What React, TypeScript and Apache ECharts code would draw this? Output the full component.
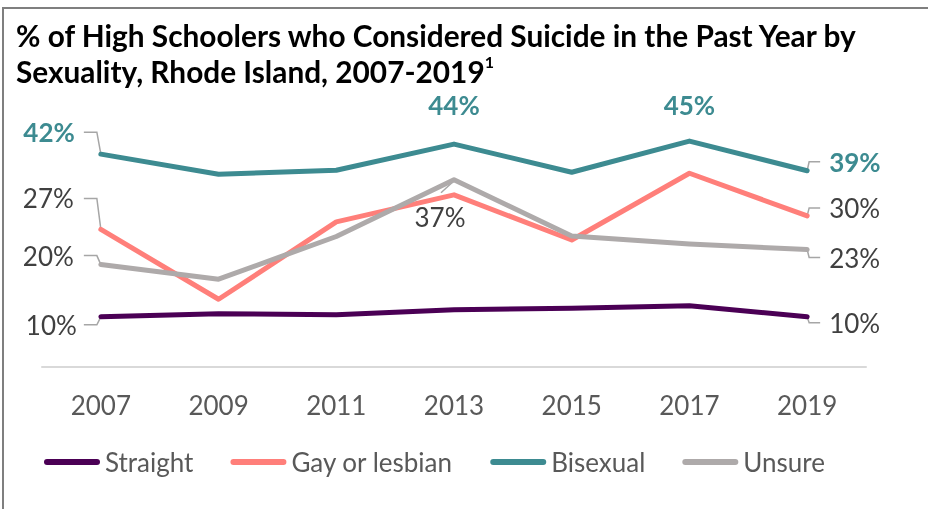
import React, { useEffect, useRef } from "react";
import * as echarts from "echarts";

const years = ["2007", "2009", "2011", "2013", "2015", "2017", "2019"];
const straight = [10.0, 10.6, 10.4, 11.4, 11.7, 12.2, 10.0];
const gayLesbian = [27.4, 13.5, 28.9, 34.3, 25.3, 38.6, 30.1];
const bisexual = [42.4, 38.4, 39.2, 44.4, 38.8, 45.0, 39.1];
const unsure = [20.4, 17.5, 26.0, 37.3, 26.1, 24.5, 23.4];
const seriesNames = ["Straight", "Gay or lesbian", "Bisexual", "Unsure"];
const seriesData = [straight, gayLesbian, bisexual, unsure];
const colors = ["#4B0055", "#FF7F7A", "#3D8B91", "#AEAAAA"];

const FONT = "Lato, 'Noto Sans', sans-serif";

type LabelSpec = { s: number; i: number; pos: string; dx: number; dy: number; leader: string | null };
const labelSpecs: LabelSpec[] = [
  { s: 2, i: 0, pos: "left", dx: -21, dy: -22, leader: "left" },
  { s: 2, i: 3, pos: "top", dx: 0, dy: -21, leader: null },
  { s: 2, i: 5, pos: "top", dx: 0, dy: -18, leader: null },
  { s: 2, i: 6, pos: "right", dx: 17, dy: -9, leader: "right" },
  { s: 1, i: 0, pos: "left", dx: -22, dy: -31, leader: "left" },
  { s: 1, i: 6, pos: "right", dx: 17, dy: -8, leader: "right" },
  { s: 3, i: 0, pos: "left", dx: -22, dy: -9, leader: "left" },
  { s: 3, i: 3, pos: "bottom", dx: -14, dy: 19, leader: "diag" },
  { s: 3, i: 6, pos: "right", dx: 17, dy: 8, leader: "right" },
  { s: 0, i: 0, pos: "left", dx: -19, dy: 8, leader: "left" },
  { s: 0, i: 6, pos: "right", dx: 17, dy: 6, leader: "right" },
];

export default function App() {
  const ref = useRef<HTMLDivElement>(null);
  useEffect(() => {
    if (!ref.current) return;
    const chart = echarts.init(ref.current, undefined, { renderer: "svg" });

    const series = seriesData.map((vals, s) => ({
      name: seriesNames[s],
      type: "line",
      symbol: "circle",
      symbolSize: 0.1,
      showSymbol: true,
      showAllSymbol: true,
      color: colors[s],
      itemStyle: { color: colors[s] },
      lineStyle: { width: 5, color: colors[s], cap: "round", join: "round" },
      label: { show: false },
      data: vals.map((v, i) => {
        const spec = labelSpecs.find((l) => l.s === s && l.i === i);
        if (!spec) return v;
        const bold = s === 2;
        return {
          value: v,
          label: {
            show: true,
            position: spec.pos,
            distance: 5,
            offset: [spec.dx, spec.dy],
            formatter: (p: any) => `${Math.round(p.value)}%`,
            fontFamily: FONT,
            fontSize: 26,
            fontWeight: bold ? "bold" : "normal",
            color: bold ? "#3D8B91" : "#404040",
          },
        };
      }),
    }));

    chart.setOption({
      animation: false,
      title: {
        text: "% of High Schoolers who Considered Suicide in the Past Year by\nSexuality, Rhode Island, 2007-2019{sup|1}",
        left: 11,
        top: 12,
        textStyle: {
          fontFamily: FONT,
          fontSize: 29.8,
          fontWeight: "bold",
          color: "#000000",
          lineHeight: 36,
          rich: {
            sup: { fontFamily: FONT, fontSize: 16, fontWeight: "bold", color: "#000000", lineHeight: 22, verticalAlign: "top" },
          },
        },
      },
      legend: {
        left: 39,
        top: 442,
        itemWidth: 56,
        itemHeight: 6,
        itemGap: 37,
        icon: "path://M3,0 H53 A3,3 0 0 1 53,6 H3 A3,3 0 0 1 3,0 Z",
        data: seriesNames,
        textStyle: { fontFamily: FONT, fontSize: 26, color: "#595959", lineHeight: 30 },
      },
      grid: { left: 42, right: 62, top: 116, bottom: 142, containLabel: false },
      xAxis: {
        type: "category",
        data: years,
        boundaryGap: true,
        axisLine: { show: true, lineStyle: { color: "#D9D9D9", width: 2 } },
        axisTick: { show: false },
        axisLabel: { fontFamily: FONT, fontSize: 26, color: "#595959", margin: 25 },
      },
      yAxis: { type: "value", min: 0, max: 50, show: false, splitLine: { show: false } },
      series,
    });

    const leaders: any[] = [];
    labelSpecs.forEach((spec) => {
      if (!spec.leader) return;
      const p = chart.convertToPixel({ seriesIndex: spec.s }, [spec.i, seriesData[spec.s][spec.i]]) as number[];
      const [px, py] = p;
      let pts: number[][] = [];
      if (spec.leader === "left") {
        const ly = py + spec.dy;
        pts = [[px - 17, ly], [px - 4, ly], [px, py]];
      } else if (spec.leader === "right") {
        const ly = py + spec.dy;
        pts = [[px, py], [px + 2, ly], [px + 13, ly]];
      } else {
        pts = [[px - 13, py + 13], [px - 1, py + 2]];
      }
      leaders.push({
        type: "polyline",
        shape: { points: pts },
        style: { stroke: "#A6A6A6", lineWidth: 1.5, fill: "none" },
        z: 1,
        silent: true,
      });
    });

    chart.setOption({
      graphic: [
        {
          type: "rect",
          shape: { x: 3, y: 8, width: 1200, height: 1200 },
          style: { stroke: "#7F7F7F", lineWidth: 2, fill: "none" },
          silent: true,
        },
        ...leaders,
      ],
    });

    return () => chart.dispose();
  }, []);
  return <div ref={ref} style={{ position: "fixed", left: 0, top: 0, width: 928, height: 509 }} />;
}
